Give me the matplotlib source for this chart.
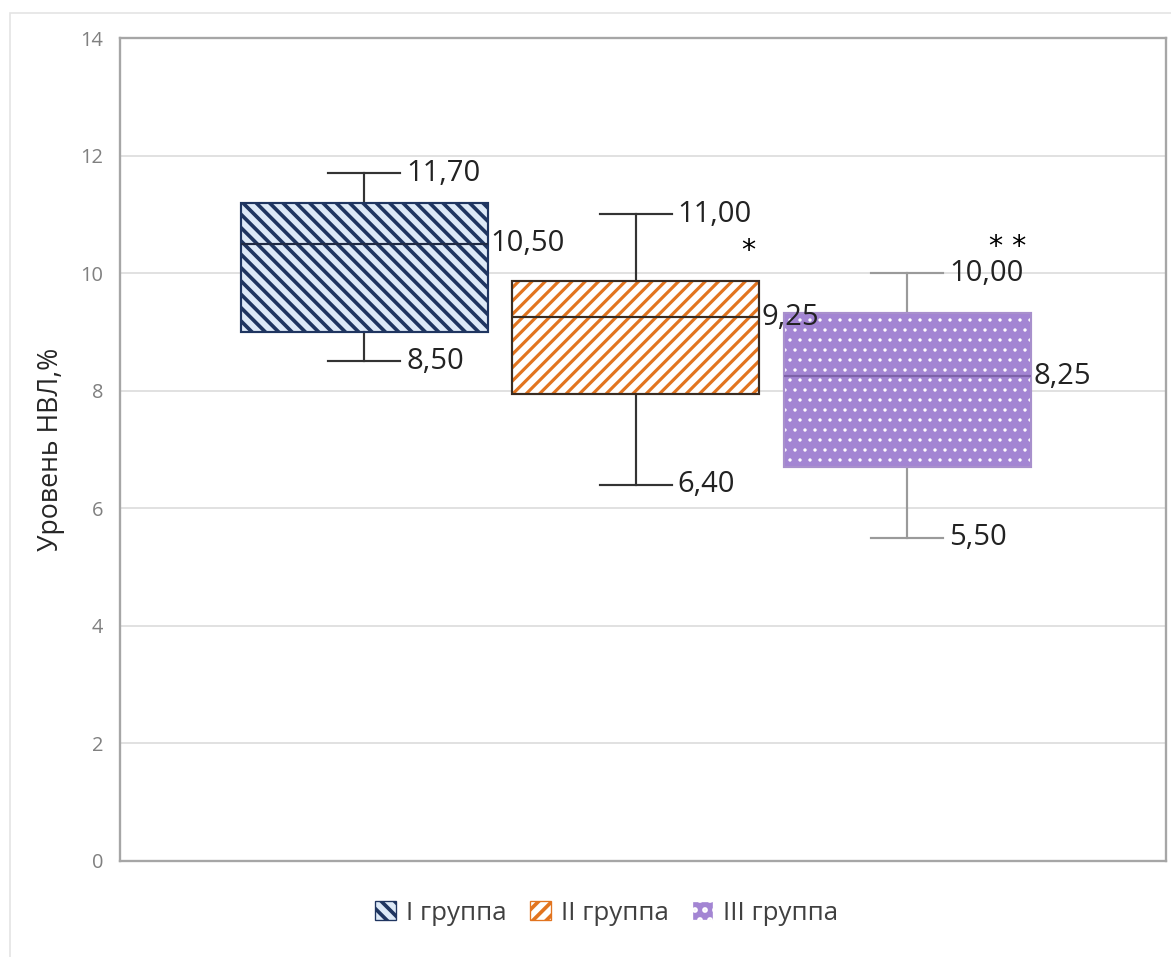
import matplotlib
matplotlib.use('Agg')
import matplotlib.pyplot as plt
import matplotlib.patches as mpatches

# данные
grupos = ['I группа', 'II группа', 'III группа']
medianas = [10.50, 9.25, 8.25]
q1 = [9.00, 7.95, 6.70]
q3 = [11.20, 9.87, 9.33]
minimos = [8.50, 6.40, 5.50]
maximos = [11.70, 11.00, 10.00]
estrelas = ['', '*', '* *']
estrela_y = [0, 10.38, 10.45]

# стиль каждой коробки
cor_fundo = ['#dde9f7', '#ffffff', '#a385d3']
cor_hatch = ['#1f3560', '#e2741f', '#ffffff']
cor_borda = ['#1f3560', '#3a2c22', '#a890cc']
cor_mediana = ['#1f2a44', '#3a2c22', '#7d62a8']
cor_bigode = ['#333333', '#333333', '#9a9a9a']
hatches = ['\\\\\\', '///', '..']
hatch_lw = [2.2, 1.9, 0.8]
estrela_dx = [0, 0.415, 0.37]

plt.rcParams['font.family'] = ['Open Sans', 'DejaVu Sans']
plt.rcParams['hatch.linewidth'] = 2.2

fig = plt.figure(figsize=(1171 / 120, 957 / 120), dpi=120)
ax = fig.add_axes([120 / 1171, 1 - 861 / 957, 1046 / 1171, 823 / 957])

stats = []
for g, m, a, b, lo, hi in zip(grupos, medianas, q1, q3, minimos, maximos):
    stats.append({'label': g, 'med': m, 'q1': a, 'q3': b,
                  'whislo': lo, 'whishi': hi, 'fliers': []})

pos = [1, 2, 3]
larg = 0.91
bp = ax.bxp(stats, positions=pos, widths=larg, capwidths=0.265,
            patch_artist=True, showfliers=False, manage_ticks=False)

for i, caixa in enumerate(bp['boxes']):
    caixa.set_facecolor(cor_fundo[i])
    caixa.set_edgecolor(cor_hatch[i])
    caixa.set_hatch(hatches[i])
    if hasattr(caixa, 'set_hatch_linewidth'):
        caixa.set_hatch_linewidth(hatch_lw[i])
    caixa.set_linewidth(0)
    caixa.set_zorder(2)
    contorno = mpatches.PathPatch(caixa.get_path(), fill=False,
                                  edgecolor=cor_borda[i], linewidth=1.3, zorder=3)
    ax.add_patch(contorno)
    bp['medians'][i].set(color=cor_mediana[i], linewidth=1.3, zorder=4)
    for k in (2 * i, 2 * i + 1):
        bp['whiskers'][k].set(color=cor_bigode[i], linewidth=1.3)
        bp['caps'][k].set(color=cor_bigode[i], linewidth=1.3)

def fmt(v):
    return f"{v:.2f}".replace('.', ',')

for i, p in enumerate(pos):
    ax.text(p + 0.155, maximos[i], fmt(maximos[i]), fontsize=17.5, color='#222222',
            va='center', ha='left', zorder=5)
    ax.text(p + 0.155, minimos[i], fmt(minimos[i]), fontsize=17.5, color='#222222',
            va='center', ha='left', zorder=5)
    ax.text(p + larg / 2 + 0.01, medianas[i], fmt(medianas[i]), fontsize=17.5,
            color='#222222', va='center', ha='left', zorder=5)
    if estrelas[i]:
        ax.text(p + estrela_dx[i], estrela_y[i], estrelas[i], fontsize=17, color='black',
                va='center', ha='center', family='DejaVu Sans', zorder=5)

ax.set_xlim(0.10, 3.954)
ax.set_ylim(0, 14)
ax.set_yticks(range(0, 15, 2))
ax.set_xticks([])
ax.grid(axis='y', color='#dcdcdc', linewidth=1.0, zorder=0)
ax.set_axisbelow(True)
ax.tick_params(axis='y', length=0, pad=10, labelsize=12, labelcolor='#808080')
for s in ax.spines.values():
    s.set_color('#a6a6a6')
    s.set_linewidth(1.4)

ax.set_ylabel('Уровень НВЛ,%', fontsize=16, color='#262626')
ax.yaxis.set_label_coords(-0.053, 0.5)

leg_handles = []
for i in range(3):
    leg_handles.append(mpatches.Patch(facecolor=cor_fundo[i], edgecolor=cor_hatch[i],
                                      hatch=hatches[i], linewidth=0.8))
fig.legend(leg_handles, grupos, loc='center', bbox_to_anchor=(607 / 1171, 1 - 913 / 957),
           ncol=3, frameon=False, fontsize=15.5, handlelength=0.8, handleheight=0.8,
           handletextpad=0.4, columnspacing=0.9, labelcolor='#404040')

borda = mpatches.Rectangle((10 / 1171, -0.1), 1.2, 1.1 - 13 / 957, transform=fig.transFigure,
                           fill=False, edgecolor='#e4e4e4', linewidth=1.0)
fig.patches.append(borda)

fig.savefig('out.png', dpi=120)
